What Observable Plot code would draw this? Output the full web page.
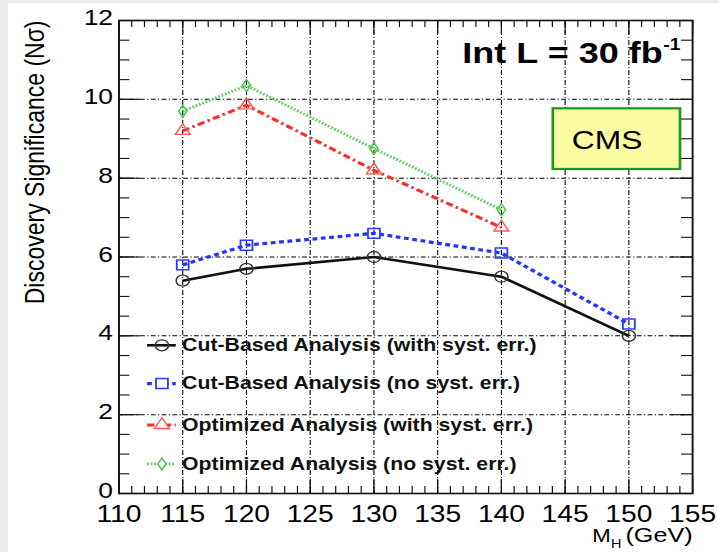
<!DOCTYPE html>
<html><head><meta charset="utf-8">
<script src="https://cdn.jsdelivr.net/npm/d3@7"></script>
<script src="https://cdn.jsdelivr.net/npm/@observablehq/plot@0.6"></script>
<style>
html,body{margin:0;padding:0;background:#ececec;width:719px;height:552px;overflow:hidden;}
#panel{position:absolute;left:8px;top:3px;width:711px;height:549px;background:#fff;overflow:hidden;}
#panel svg{transform:scaleX(1.2);transform-origin:0 0;max-width:none !important;}
</style></head><body><div id="panel"></div>
<script>
// ---- data ----
const masses = [115, 120, 130, 140, 150];
const cutSyst = [5.4, 5.7, 6.0, 5.5, 4.0];
const cutNoSyst = [5.8, 6.3, 6.6, 6.1, 4.3];
const optMasses = [115, 120, 130, 140];
const optSyst = [9.2, 9.85, 8.2, 6.75];
const optNoSyst = [9.7, 10.35, 8.75, 7.2];

const xMajorTicks = [110, 115, 120, 125, 130, 135, 140, 145, 150, 155];
const xMinorTicks = d3.range(110, 156, 1);
const yMajorTicks = [0, 2, 4, 6, 8, 10, 12];
const yMinorTicks = d3.range(0, 12.01, 0.5);
const xGrid = [115, 120, 125, 130, 135, 140, 145, 150];
const yGrid = [2, 4, 6, 8, 10];

const seriesNames = [
  "Cut-Based Analysis (with syst. err.)",
  "Cut-Based Analysis (no syst. err.)",
  "Optimized Analysis (with syst. err.)",
  "Optimized Analysis (no syst. err.)"
];

// ---- styles ----
const styles = [
  {stroke: "#111111", dash: null, width: 2.6, symbol: "circle", r: 5.5, mstroke: "#333333", mwidth: 1.3},
  {stroke: "#2233ff", dash: "4,3", width: 3.2, symbol: "square", r: 5.6, mstroke: "#2a3cff", mwidth: 1.5},
  {stroke: "#ff2a2a", dash: "6,3,2,3", width: 3, symbol: "triangle", r: 4.6, mstroke: "#ff5555", mwidth: 1.3},
  {stroke: "#5ccf5c", dash: "1.5,1.5", width: 2.8, symbol: "diamond", r: 3.6, mstroke: "#4cc44c", mwidth: 1.3}
];

const tbl = (xs, ys) => xs.map((m, i) => ({m, v: ys[i]}));
const seriesData = [tbl(masses, cutSyst), tbl(masses, cutNoSyst), tbl(optMasses, optSyst), tbl(optMasses, optNoSyst)];

// legend layout (data units)
const legendY = [3.76, 2.79, 1.74, 0.75];
const legendRows = seriesNames.map((label, i) => ({label, y: legendY[i], i}));
const lgX1 = 112.25, lgX2 = 114.5, lgXm = 113.37, lgXt = 114.95;

const xMinLen = 0.18, xMajLen = 0.36, yMinLen = 0.86, yMajLen = 1.7;

const marks = [
  // grid
  Plot.ruleX(xGrid, {stroke: "#000", strokeWidth: 0.9, strokeDasharray: "5,2,1,2"}),
  Plot.ruleY(yGrid, {stroke: "#000", strokeWidth: 1, strokeDasharray: "4,2,1,2"}),
  // ticks (inward, mirrored)
  Plot.ruleX(xMinorTicks, {y1: 0, y2: xMinLen, stroke: "#111", strokeWidth: 1}),
  Plot.ruleX(xMinorTicks, {y1: 12 - xMinLen, y2: 12, stroke: "#111", strokeWidth: 1}),
  Plot.ruleX(xMajorTicks, {y1: 0, y2: xMajLen, stroke: "#111", strokeWidth: 1}),
  Plot.ruleX(xMajorTicks, {y1: 12 - xMajLen, y2: 12, stroke: "#111", strokeWidth: 1}),
  Plot.ruleY(yMinorTicks, {x1: 110, x2: 110 + yMinLen, stroke: "#111", strokeWidth: 1.1}),
  Plot.ruleY(yMinorTicks, {x1: 155 - yMinLen, x2: 155, stroke: "#111", strokeWidth: 1.1}),
  Plot.ruleY(yMajorTicks, {x1: 110, x2: 110 + yMajLen, stroke: "#111", strokeWidth: 1.1}),
  Plot.ruleY(yMajorTicks, {x1: 155 - yMajLen, x2: 155, stroke: "#111", strokeWidth: 1.1}),
  Plot.frame({stroke: "#111", strokeWidth: 1.6}),
  Plot.axisX({ticks: xMajorTicks, tickSize: 0, tickPadding: 12, tickFormat: d => String(d), label: null, fontSize: 23.5}),
  Plot.axisY({ticks: yMajorTicks, tickSize: 0, tickPadding: 5, dy: -2.5, tickFormat: d => String(d), label: null, fontSize: 22}),
];

// series
seriesData.forEach((data, i) => {
  const s = styles[i];
  marks.push(Plot.line(data, {x: "m", y: "v", stroke: s.stroke, strokeWidth: s.width, strokeDasharray: s.dash, strokeLinecap: "butt", strokeLinejoin: "miter"}));
  marks.push(Plot.dot(data, {x: "m", y: "v", symbol: () => s.symbol, r: s.r, stroke: s.mstroke, strokeWidth: s.mwidth, fill: "none"}));
});

// legend
legendRows.forEach(row => {
  const s = styles[row.i];
  marks.push(Plot.ruleY([row], {y: "y", x1: () => lgX1, x2: () => lgX2, stroke: s.stroke, strokeWidth: s.width, strokeDasharray: s.dash, strokeLinecap: "butt"}));
  marks.push(Plot.dot([row], {x: () => lgXm, y: "y", symbol: () => s.symbol, r: s.r, stroke: s.mstroke, strokeWidth: s.mwidth, fill: row.i === 0 ? "none" : "white"}));
});
marks.push(Plot.text(legendRows, {x: () => lgXt, y: "y", text: "label", textAnchor: "start", fontWeight: "bold", fontSize: 17.7, fill: "#111"}));

// annotations
marks.push(Plot.rect([{x1: 144.08, x2: 154.06, y1: 8.22, y2: 9.76}], {x1: "x1", x2: "x2", y1: "y1", y2: "y2", fill: "#fbfba2", stroke: "#1a9a1a", strokeWidth: 2.2}));
marks.push(Plot.text(["CMS"], {x: () => 148.3, y: () => 8.95, text: d => d, fontSize: 26.5, fill: "#000"}));
marks.push(Plot.text(["Int L = 30 fb"], {x: () => 152.65, y: () => 10.93, text: d => d, textAnchor: "end", lineAnchor: "bottom", fontSize: 30, fontWeight: "bold", fill: "#000"}));
marks.push(Plot.text(["-1"], {x: () => 152.7, y: () => 11.24, text: d => d, textAnchor: "start", lineAnchor: "bottom", fontSize: 16, fontWeight: "bold", fill: "#000"}));
// axis titles
marks.push(Plot.text(["Discovery Significance (N\u03c3)"], {frameAnchor: "top-left", text: d => d, rotate: -90, textAnchor: "end", lineAnchor: "bottom", dx: -62.3, dy: 0, fontSize: 23, fill: "#000"}));
marks.push(Plot.text(["M"], {x: () => 147.13, y: () => -1.235, text: d => d, textAnchor: "start", lineAnchor: "bottom", fontSize: 18.5, fill: "#000"}));
marks.push(Plot.text(["H"], {x: () => 148.6, y: () => -1.37, text: d => d, textAnchor: "start", lineAnchor: "bottom", fontSize: 12, fill: "#000"}));
marks.push(Plot.text(["(GeV)"], {x: () => 155.0, y: () => -1.235, text: d => d, textAnchor: "end", lineAnchor: "bottom", fontSize: 21, fill: "#000"}));

const chart = Plot.plot({
  width: 592,
  height: 549,
  marginLeft: 92,
  marginRight: 22,
  marginTop: 17,
  marginBottom: 59,
  x: {domain: [110, 155], label: null},
  y: {domain: [0, 12], label: null},
  style: {background: "transparent", fontFamily: "'Liberation Sans', Arial, Helvetica, sans-serif", fontSize: "22px", color: "#000", overflow: "visible"},
  marks
});
document.getElementById("panel").appendChild(chart);
</script>
</body></html>
